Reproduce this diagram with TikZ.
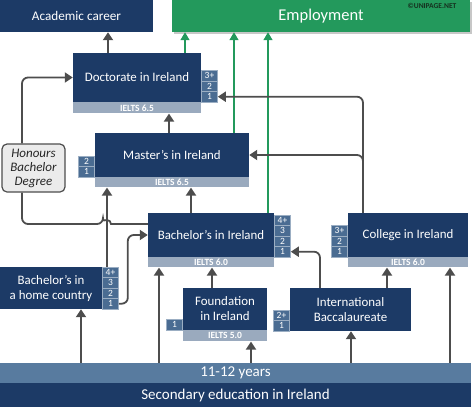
\documentclass[tikz,border=0pt]{standalone}
\usepackage{fontspec}
\setmainfont{Carlito}
\usetikzlibrary{positioning,calc,arrows.meta}
\definecolor{navy}{HTML}{1C3A66}
\definecolor{numblue}{HTML}{4A6C92}
\definecolor{barblue}{HTML}{9AAABE}
\definecolor{bandblue}{HTML}{587B9F}
\definecolor{empgreen}{HTML}{23995C}
\definecolor{linkgrey}{HTML}{4D4D4D}
\definecolor{copytext}{HTML}{16301F}
\tikzset{
  box/.style   = {fill=navy, text=white, inner sep=0pt, align=center, font=\fontsize{12.9}{15}\selectfont},
  ielts/.style = {fill=barblue, text=white, inner sep=0pt, font=\fontsize{9.5}{10}\selectfont\bfseries},
  num/.style   = {fill=numblue, draw=white!45!numblue, line width=0.6pt, text=white, minimum width=16, minimum height=10.4, inner sep=0pt, font=\fontsize{9.5}{10}\selectfont},
  band/.style  = {fill=bandblue, text=white, inner sep=0pt, font=\fontsize{15}{17}\selectfont},
  link/.style  = {draw=linkgrey, line width=1.8pt, -{Triangle[length=8pt,width=10pt]}},
  plain/.style = {draw=linkgrey, line width=1.8pt},
  glink/.style = {draw=empgreen, line width=1.4pt, -{Triangle[length=8pt,width=9pt]}},
  note/.style  = {draw=linkgrey, line width=1.2pt, fill=black!8, rounded corners=5pt, align=center, inner sep=0pt, font=\fontsize{13}{14}\selectfont\itshape, text=black!85},
}

\begin{document}
\begin{tikzpicture}[x=1pt,y=-1pt]
  \useasboundingbox (0,0) rectangle (474,407);

  % top row
  \node[box, minimum width=153, minimum height=32, font=\fontsize{13.2}{15}\selectfont] (acad) at (76.5,16) {Academic career};
  \fill[black!22] (174,2) rectangle (472,34);
  \node[box, fill=empgreen, minimum width=298, minimum height=32, font=\fontsize{16.5}{18}\selectfont] (empl) at (321,16) {Employment};
  \node[font=\fontsize{7.5}{8}\selectfont\bfseries, text=copytext, inner sep=0pt] (copy) at (432,6) {©UNIPAGE.NET};

  % study levels
  \node[box, minimum width=128, minimum height=49] (doc) at (137,77.5) {Doctorate in Ireland};
  \node[ielts, minimum width=128, minimum height=11, below=0pt of doc] (docI) {IELTS 6.5};
  \node[box, minimum width=154, minimum height=44] (mas) at (172,155) {Master's in Ireland};
  \node[ielts, minimum width=154, minimum height=10, below=0pt of mas] (masI) {IELTS 6.5};
  \node[box, minimum width=126, minimum height=44] (bac) at (211,235) {Bachelor's in Ireland};
  \node[ielts, minimum width=126, minimum height=10, below=0pt of bac] (bacI) {IELTS 6.0};
  \node[box, minimum width=120, minimum height=44] (col) at (408,235) {College in Ireland};
  \node[ielts, minimum width=120, minimum height=10, below=0pt of col] (colI) {IELTS 6.0};
  \node[box, minimum width=102, minimum height=42] (hom) at (51,288) {Bachelor's in\\a home country};
  \node[box, minimum width=84, minimum height=42] (fou) at (225,309) {Foundation\\in Ireland};
  \node[ielts, minimum width=84, minimum height=11, below=0pt of fou] (fouI) {IELTS 5.0};
  \node[box, minimum width=121, minimum height=43] (ib) at (350.5,309.5) {International\\Baccalaureate};
  \node[note, minimum width=63, minimum height=48] (hon) at (33.5,168) {Honours\\Bachelor\\Degree};

  % years of study
  \foreach \b/\c/\a/\l in {doc/south east/south west/{1,2,3+}, mas/south west/south east/{1,2},
    bac/south east/south west/{1,2,3,4+}, col/south west/south east/{1,2,3+},
    hom/south east/south west/{1,2,3,4+}, fou/south west/south east/{1}, ib/south west/south east/{1,2+}}
  {
    \foreach \t [count=\i] in \l
      \node[num, anchor=\a] (\b-\i) at ($(\b.\c)+(0,{-(\i-1)*10.45})$) {\t};
  }

  % school
  \node[band, minimum width=471, minimum height=20] (yrs) at (235.5,373) {11-12 years};
  \node[box, minimum width=471, minimum height=24, below=0pt of yrs, font=\fontsize{15}{17}\selectfont] (sec) {Secondary education in Ireland};

  % paths
  \draw[link] (108,0 |- doc.north) -- (108,0 |- acad.south);
  \draw[glink] (185,0 |- doc.north) -- (185,0 |- empl.south);
  \draw[glink] (234,0 |- mas.north) -- (234,0 |- empl.south);
  \draw[glink] (268,0 |- bac.north) -- (268,0 |- empl.south);
  \draw[link] (169,0 |- mas.north) -- (169,0 |- docI.south);
  \draw[link] (191,0 |- bac.north) -- (191,0 |- masI.south);
  \draw[link, rounded corners=6pt] (363,0 |- col.north) |- (doc-1.east);
  \draw[link, rounded corners=6pt] (363,0 |- col.north) |- (mas.east);
  \draw[link, rounded corners=6pt] (22,0 |- hon.north) |- (doc.west);
  \draw[plain] (22,0 |- hon.south) [rounded corners=6pt] -- (22,224) -- (103,224) [sharp corners]
    arc[start angle=180, end angle=0, radius=4pt] -- (bac.west |- 0,224);
  \draw[link] (107,0 |- hom-4.north) -- (107,0 |- masI.south);
  \draw[link, rounded corners=6pt] (hom-1.east) -| ($(bac.west)+(-20,0)$) -- (bac.west);
  \draw[link] (81,0 |- yrs.north) -- (81,0 |- hom.south);
  \draw[link] (159,0 |- yrs.north) -- (159,0 |- bacI.south);
  \draw[link] (212,0 |- fou.north) -- (212,0 |- bacI.south);
  \draw[link] (251,0 |- yrs.north) -- (251,0 |- fouI.south);
  \draw[link, rounded corners=6pt] (320,0 |- ib.north) |- (bac-1.east);
  \draw[link] (387,0 |- ib.north) -- (387,0 |- colI.south);
  \draw[link] (351,0 |- yrs.north) -- (351,0 |- ib.south);
  \draw[link] (450,0 |- yrs.north) -- (450,0 |- colI.south);
\end{tikzpicture}
\end{document}
